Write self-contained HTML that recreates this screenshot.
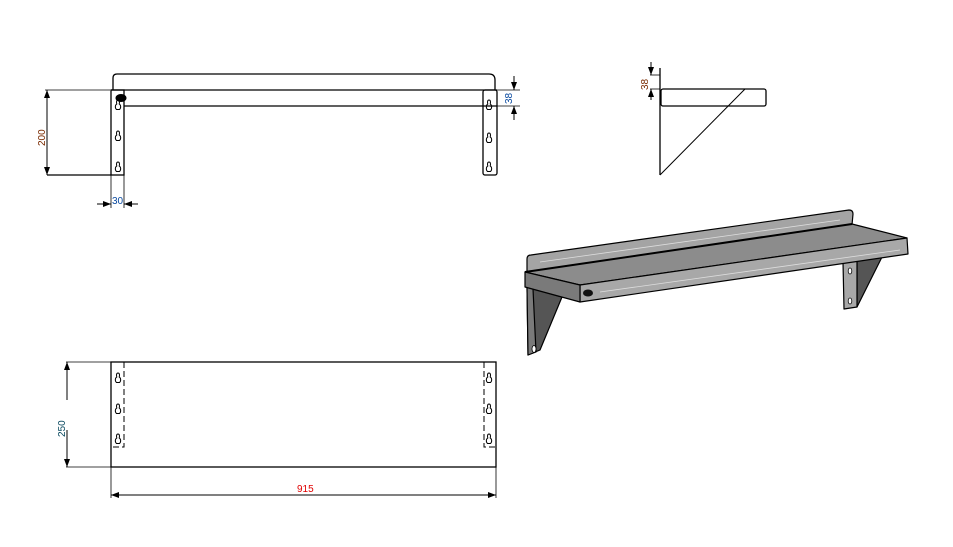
<!DOCTYPE html>
<html><head><meta charset="utf-8"><style>
html,body{margin:0;padding:0;background:#fff;}
svg{display:block;}
text{font-family:"Liberation Sans",sans-serif;}
</style></head><body>
<svg width="953" height="547" viewBox="0 0 953 547" xmlns="http://www.w3.org/2000/svg">
<defs>
<path id="kh" d="M0,-5 C-1.5,-5 -1.8,-3 -1.2,-1 C-3,0 -3.2,3 -1.5,4.5 L1.5,4.5 C3.2,3 3,0 1.2,-1 C1.8,-3 1.5,-5 0,-5 Z" fill="none" stroke="#000" stroke-width="1"/>
<marker id="ar" markerWidth="8" markerHeight="6" refX="8" refY="3" orient="auto" markerUnits="userSpaceOnUse"><path d="M0,0 L8,3 L0,6 Z" fill="#000"/></marker>
</defs>
<g fill="none" stroke="#000" stroke-width="1">
<path d="M113,90 L113,78 Q113,74 117,74 L489,74 Q495,74 495,80 L495,90" stroke-width="1.3"/>
<line x1="111" y1="90" x2="497" y2="90" stroke-width="1.3"/>
<line x1="124" y1="106" x2="497" y2="106" stroke-width="1.3"/>
<rect x="111" y="90" width="13" height="85" stroke-width="1.3"/>
<rect x="483" y="90" width="14" height="85" rx="2" stroke-width="1.3"/>
<ellipse cx="121" cy="98" rx="5" ry="3.5" fill="#000"/>
<use href="#kh" x="118" y="105"/><use href="#kh" x="118" y="136"/><use href="#kh" x="118" y="167"/>
<use href="#kh" x="489" y="105"/><use href="#kh" x="489" y="138"/><use href="#kh" x="489" y="167"/>
<line x1="45" y1="90" x2="110" y2="90" stroke-width="0.8"/>
<line x1="47" y1="175" x2="111" y2="175" stroke-width="1.3"/>
<line x1="47" y1="100" x2="47" y2="90" marker-end="url(#ar)"/>
<line x1="47" y1="165" x2="47" y2="175" marker-end="url(#ar)"/>
<line x1="47" y1="98" x2="47" y2="167"/>
<line x1="111" y1="175" x2="111" y2="208" stroke-width="0.8"/>
<line x1="124" y1="175" x2="124" y2="208" stroke-width="0.8"/>
<line x1="97" y1="204" x2="111" y2="204" marker-end="url(#ar)"/>
<line x1="138" y1="204" x2="124" y2="204" marker-end="url(#ar)"/>
<line x1="497" y1="90" x2="520" y2="90" stroke-width="0.8"/>
<line x1="497" y1="106" x2="520" y2="106" stroke-width="0.8"/>
<line x1="514" y1="76" x2="514" y2="90" marker-end="url(#ar)"/>
<line x1="514" y1="120" x2="514" y2="106" marker-end="url(#ar)"/>
<line x1="660" y1="68" x2="660" y2="175" stroke-width="1.3"/>
<rect x="661" y="89" width="105" height="17" rx="2" stroke-width="1.3"/>
<line x1="660" y1="175" x2="745" y2="89"/>
<line x1="650" y1="75" x2="660" y2="75" stroke-width="0.8"/>
<line x1="650" y1="89" x2="660" y2="89" stroke-width="0.8"/>
<line x1="651" y1="62" x2="651" y2="75" marker-end="url(#ar)"/>
<line x1="651" y1="100" x2="651" y2="89" marker-end="url(#ar)"/>
<rect x="111" y="362" width="385" height="105" stroke-width="1.3"/>
<path d="M124,362 L124,447 L112,447" stroke-dasharray="6,3"/>
<path d="M484,362 L484,447 L496,447" stroke-dasharray="6,3"/>
<use href="#kh" x="118" y="378"/><use href="#kh" x="118" y="409"/><use href="#kh" x="118" y="439"/>
<use href="#kh" x="489" y="378"/><use href="#kh" x="489" y="409"/><use href="#kh" x="489" y="439"/>
<line x1="66" y1="362" x2="111" y2="362" stroke-width="0.8"/>
<line x1="66" y1="467" x2="111" y2="467" stroke-width="0.8"/>
<line x1="67" y1="400" x2="67" y2="362" marker-end="url(#ar)"/>
<line x1="67" y1="430" x2="67" y2="467" marker-end="url(#ar)"/>
<line x1="111" y1="467" x2="111" y2="498" stroke-width="0.8"/>
<line x1="496" y1="467" x2="496" y2="498" stroke-width="0.8"/>
<line x1="300" y1="495" x2="111" y2="495" marker-end="url(#ar)"/>
<line x1="300" y1="495" x2="496" y2="495" marker-end="url(#ar)"/>
</g>
<g stroke="#000" stroke-width="1.2" stroke-linejoin="round">
<path d="M527,287 L562,297 L540,350 L528,355 Z" fill="#555"/>
<path d="M527,287 L533,289 L536,352 L528,355 Z" fill="#7a7a7a"/>
<path d="M857,258 L882,257 L857,307 Z" fill="#555"/>
<path d="M843,262 L857,260 L857,307 L844,309 Z" fill="#a8a8a8"/>
<path d="M527,272 L527,259 Q527,255 531,255 L849,210 Q853,210 853,214 L852,225 Z" fill="#a4a4a4"/>
<path d="M525,272 L852,224 L907,238 L580,285 Z" fill="#8c8c8c"/>
<path d="M525,272 L852,224" stroke-width="2"/>
<path d="M580,285 L907,238 L908,254 L580,302 Z" fill="#a8a8a8"/>
<path d="M525,272 L580,285 L580,302 L525,287 Z" fill="#7a7a7a"/>
</g>
<g stroke="#ddd" stroke-width="0.8">
<line x1="540" y1="262" x2="840" y2="220"/>
<line x1="600" y1="292" x2="900" y2="250"/>
</g>
<ellipse cx="588" cy="293" rx="5" ry="3.5" fill="#111"/>
<g fill="#fff" stroke="#000" stroke-width="0.8">
<ellipse cx="534" cy="349" rx="2" ry="3.5"/>
<ellipse cx="850" cy="271" rx="1.8" ry="3"/>
<ellipse cx="850" cy="301" rx="1.8" ry="3"/>
</g>
<text x="0" y="0" font-size="10" fill="#7a2a00" transform="translate(45,146) rotate(-90)">200</text>
<text x="112" y="204" font-size="10" fill="#0a4aa0">30</text>
<text x="0" y="0" font-size="10" fill="#0a4aa0" transform="translate(512,104) rotate(-90)">38</text>
<text x="0" y="0" font-size="10" fill="#7a2a00" transform="translate(648,90) rotate(-90)">38</text>
<text x="0" y="0" font-size="10" fill="#0a4a60" transform="translate(65,437) rotate(-90)">250</text>
<text x="297" y="492" font-size="10" fill="#e00000">915</text>
</svg>
</body></html>
